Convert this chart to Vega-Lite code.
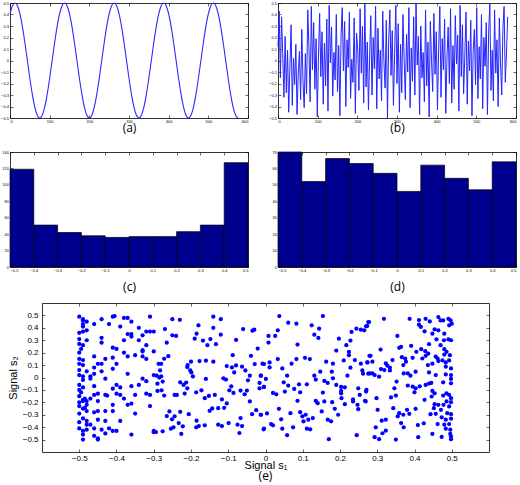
{
"$schema": "https://vega.github.io/schema/vega-lite/v6.json",
"padding": {"left": 0, "top": 0, "right": 0, "bottom": 0},
"background": "white",
"spacing": 9,
"config": {
  "view": {"stroke": null},
  "axis": {"grid": false, "domainColor": "black", "domainWidth": 0.8, "tickColor": "black", "tickWidth": 0.6, "tickSize": -3, "labelPadding": 4.5, "labelFontSize": 4, "labelColor": "black", "labelFont": "Liberation Sans", "titleFont": "Open Sans", "titleFontWeight": "normal", "titleFontSize": 12, "titleColor": "black", "titleLineHeight": 7}
},
"datasets": {
  "sine": [
{"x":0,"y":0.4045},{"x":6.25,"y":0.4755},{"x":12.5,"y":0.5},{"x":18.75,"y":0.4755},{"x":25,"y":0.4045},{"x":31.25,"y":0.2939},{"x":37.5,"y":0.1545},{"x":43.75,"y":0},{"x":50,"y":-0.1545},{"x":56.25,"y":-0.2939},{"x":62.5,"y":-0.4045},{"x":68.75,"y":-0.4755},{"x":75,"y":-0.5},{"x":81.25,"y":-0.4755},{"x":87.5,"y":-0.4045},{"x":93.75,"y":-0.2939},{"x":100,"y":-0.1545},{"x":106.25,"y":0},{"x":112.5,"y":0.1545},{"x":118.75,"y":0.2939},
{"x":125,"y":0.4045},{"x":131.25,"y":0.4755},{"x":137.5,"y":0.5},{"x":143.75,"y":0.4755},{"x":150,"y":0.4045},{"x":156.25,"y":0.2939},{"x":162.5,"y":0.1545},{"x":168.75,"y":0},{"x":175,"y":-0.1545},{"x":181.25,"y":-0.2939},{"x":187.5,"y":-0.4045},{"x":193.75,"y":-0.4755},{"x":200,"y":-0.5},{"x":206.25,"y":-0.4755},{"x":212.5,"y":-0.4045},{"x":218.75,"y":-0.2939},{"x":225,"y":-0.1545},{"x":231.25,"y":0},{"x":237.5,"y":0.1545},{"x":243.75,"y":0.2939},
{"x":250,"y":0.4045},{"x":256.25,"y":0.4755},{"x":262.5,"y":0.5},{"x":268.75,"y":0.4755},{"x":275,"y":0.4045},{"x":281.25,"y":0.2939},{"x":287.5,"y":0.1545},{"x":293.75,"y":0},{"x":300,"y":-0.1545},{"x":306.25,"y":-0.2939},{"x":312.5,"y":-0.4045},{"x":318.75,"y":-0.4755},{"x":325,"y":-0.5},{"x":331.25,"y":-0.4755},{"x":337.5,"y":-0.4045},{"x":343.75,"y":-0.2939},{"x":350,"y":-0.1545},{"x":356.25,"y":0},{"x":362.5,"y":0.1545},{"x":368.75,"y":0.2939},
{"x":375,"y":0.4045},{"x":381.25,"y":0.4755},{"x":387.5,"y":0.5},{"x":393.75,"y":0.4755},{"x":400,"y":0.4045},{"x":406.25,"y":0.2939},{"x":412.5,"y":0.1545},{"x":418.75,"y":0},{"x":425,"y":-0.1545},{"x":431.25,"y":-0.2939},{"x":437.5,"y":-0.4045},{"x":443.75,"y":-0.4755},{"x":450,"y":-0.5},{"x":456.25,"y":-0.4755},{"x":462.5,"y":-0.4045},{"x":468.75,"y":-0.2939},{"x":475,"y":-0.1545},{"x":481.25,"y":0},{"x":487.5,"y":0.1545},{"x":493.75,"y":0.2939},
{"x":500,"y":0.4045},{"x":506.25,"y":0.4755},{"x":512.5,"y":0.5},{"x":518.75,"y":0.4755},{"x":525,"y":0.4045},{"x":531.25,"y":0.2939},{"x":537.5,"y":0.1545},{"x":543.75,"y":0},{"x":550,"y":-0.1545},{"x":556.25,"y":-0.2939},{"x":562.5,"y":-0.4045},{"x":568.75,"y":-0.4755},{"x":575,"y":-0.5}
  ],
  "noise": [
{"x":0,"y":0.12},{"x":3,"y":0.43},{"x":6,"y":-0.15},{"x":9,"y":0.38},{"x":12,"y":0.05},{"x":15,"y":-0.32},{"x":18,"y":0.21},{"x":21,"y":-0.28},{"x":24,"y":0.09},{"x":27,"y":-0.45},
{"x":30,"y":-0.05},{"x":33,"y":0.31},{"x":36,"y":-0.39},{"x":39,"y":0.02},{"x":42,"y":-0.21},{"x":45,"y":0.14},{"x":48,"y":-0.47},{"x":51,"y":-0.12},{"x":54,"y":0.08},{"x":57,"y":-0.34},
{"x":60,"y":0.27},{"x":63,"y":-0.18},{"x":66,"y":-0.41},{"x":69,"y":0.06},{"x":72,"y":-0.29},{"x":75,"y":0.44},{"x":78,"y":0.11},{"x":81,"y":-0.36},{"x":84,"y":0.47},{"x":87,"y":-0.08},
{"x":90,"y":0.33},{"x":93,"y":-0.25},{"x":96,"y":0.19},{"x":99,"y":-0.49},{"x":102,"y":0.03},{"x":105,"y":0.41},{"x":108,"y":-0.14},{"x":111,"y":0.25},{"x":114,"y":-0.38},{"x":117,"y":0.15},
{"x":120,"y":-0.22},{"x":123,"y":0.36},{"x":126,"y":-0.44},{"x":129,"y":0.48},{"x":132,"y":-0.02},{"x":135,"y":0.29},{"x":138,"y":-0.31},{"x":141,"y":0.07},{"x":144,"y":-0.17},{"x":147,"y":0.4},
{"x":150,"y":-0.27},{"x":153,"y":0.13},{"x":156,"y":-0.48},{"x":159,"y":0.22},{"x":162,"y":0.46},{"x":165,"y":-0.09},{"x":168,"y":0.34},{"x":171,"y":-0.4},{"x":174,"y":0.18},{"x":177,"y":-0.06},
{"x":180,"y":0.42},{"x":183,"y":-0.33},{"x":186,"y":0.01},{"x":189,"y":-0.19},{"x":192,"y":0.37},{"x":195,"y":-0.46},{"x":198,"y":0.24},{"x":201,"y":0.1},{"x":204,"y":-0.26},{"x":207,"y":0.45},
{"x":210,"y":-0.11},{"x":213,"y":0.3},{"x":216,"y":-0.37},{"x":219,"y":0.49},{"x":222,"y":-0.23},{"x":225,"y":0.16},{"x":228,"y":-0.43},{"x":231,"y":0.04},{"x":234,"y":0.39},{"x":237,"y":-0.3},
{"x":240,"y":0.2},{"x":243,"y":-0.07},{"x":246,"y":0.47},{"x":249,"y":-0.42},{"x":252,"y":0.28},{"x":255,"y":-0.16},{"x":258,"y":0.09},{"x":261,"y":-0.35},{"x":264,"y":0.43},{"x":267,"y":-0.01},
{"x":270,"y":-0.24},{"x":273,"y":0.35},{"x":276,"y":-0.5},{"x":279,"y":0.17},{"x":282,"y":0.44},{"x":285,"y":-0.13},{"x":288,"y":0.26},{"x":291,"y":-0.39},{"x":294,"y":0.06},{"x":297,"y":0.48},
{"x":300,"y":-0.2},{"x":303,"y":0.32},{"x":306,"y":-0.45},{"x":309,"y":0.14},{"x":312,"y":-0.28},{"x":315,"y":0.4},{"x":318,"y":0.02},{"x":321,"y":-0.34},{"x":324,"y":0.23},{"x":327,"y":-0.1},
{"x":330,"y":0.46},{"x":333,"y":-0.41},{"x":336,"y":0.11},{"x":339,"y":-0.18},{"x":342,"y":0.38},{"x":345,"y":-0.3},{"x":348,"y":0.5},{"x":351,"y":-0.04},{"x":354,"y":0.21},{"x":357,"y":-0.47},
{"x":360,"y":0.3},{"x":363,"y":-0.15},{"x":366,"y":0.07},{"x":369,"y":-0.36},{"x":372,"y":0.44},{"x":375,"y":-0.22},{"x":378,"y":0.16},{"x":381,"y":-0.49},{"x":384,"y":0.34},{"x":387,"y":0.0},
{"x":390,"y":-0.27},{"x":393,"y":0.41},{"x":396,"y":-0.12},{"x":399,"y":0.25},{"x":402,"y":-0.43},{"x":405,"y":0.1},{"x":408,"y":0.47},{"x":411,"y":-0.32},{"x":414,"y":0.19},{"x":417,"y":-0.08},
{"x":420,"y":0.36},{"x":423,"y":-0.46},{"x":426,"y":0.03},{"x":429,"y":0.29},{"x":432,"y":-0.2},{"x":435,"y":0.45},{"x":438,"y":-0.37},{"x":441,"y":0.13},{"x":444,"y":-0.25},{"x":447,"y":0.39},
{"x":450,"y":-0.03},{"x":453,"y":0.22},{"x":456,"y":-0.44},{"x":459,"y":0.48},{"x":462,"y":-0.14},{"x":465,"y":0.31},{"x":468,"y":-0.29},{"x":471,"y":0.05},{"x":474,"y":0.42},{"x":477,"y":-0.38},
{"x":480,"y":0.17},{"x":483,"y":-0.09},{"x":486,"y":0.35},{"x":489,"y":-0.48},{"x":492,"y":0.08},{"x":495,"y":0.27},{"x":498,"y":-0.21},{"x":501,"y":0.46},{"x":504,"y":-0.33},{"x":507,"y":0.12},
{"x":510,"y":-0.16},{"x":513,"y":0.4},{"x":516,"y":-0.42},{"x":519,"y":0.2},{"x":522,"y":-0.05},{"x":525,"y":0.33},{"x":528,"y":-0.47},{"x":531,"y":0.24},{"x":534,"y":0.49},{"x":537,"y":-0.26},
{"x":540,"y":0.09},{"x":543,"y":-0.35},{"x":546,"y":0.44},{"x":549,"y":-0.11},{"x":552,"y":0.18},{"x":555,"y":-0.4},{"x":558,"y":0.37},{"x":561,"y":-0.02},{"x":564,"y":-0.3},{"x":567,"y":0.28},
{"x":570,"y":0.47},{"x":573,"y":-0.19},{"x":576,"y":0.06},{"x":579,"y":0.38}
  ],
  "hc": [
{"b0":-0.5,"b1":-0.4,"n":119},{"b0":-0.4,"b1":-0.3,"n":51},{"b0":-0.3,"b1":-0.2,"n":42},{"b0":-0.2,"b1":-0.1,"n":38},{"b0":-0.1,"b1":0,"n":36},{"b0":0,"b1":0.1,"n":37},{"b0":0.1,"b1":0.2,"n":37},{"b0":0.2,"b1":0.3,"n":43},{"b0":0.3,"b1":0.4,"n":51},{"b0":0.4,"b1":0.5,"n":127}
  ],
  "hd": [
{"b0":-0.5,"b1":-0.4,"n":70},{"b0":-0.4,"b1":-0.3,"n":52},{"b0":-0.3,"b1":-0.2,"n":66},{"b0":-0.2,"b1":-0.1,"n":63},{"b0":-0.1,"b1":0,"n":57},{"b0":0,"b1":0.1,"n":46},{"b0":0.1,"b1":0.2,"n":62},{"b0":0.2,"b1":0.3,"n":54},{"b0":0.3,"b1":0.4,"n":47},{"b0":0.4,"b1":0.5,"n":64}
  ],
  "pts": [
{"x":-0.5,"y":0.49},{"x":-0.49,"y":0.47},{"x":-0.49,"y":0.46},{"x":-0.48,"y":0.45},{"x":-0.49,"y":0.43},{"x":-0.49,"y":0.41},{"x":-0.48,"y":0.38},{"x":-0.49,"y":0.37},{"x":-0.44,"y":0.47},{"x":-0.41,"y":0.49},{"x":-0.405,"y":0.495},{"x":-0.38,"y":0.48},{"x":-0.37,"y":0.48},{"x":-0.36,"y":0.45},{"x":-0.31,"y":0.49},{"x":-0.46,"y":0.43},{"x":-0.42,"y":0.43},{"x":-0.39,"y":0.41},{"x":-0.34,"y":0.4},{"x":-0.32,"y":0.37},{"x":-0.31,"y":0.37},{"x":-0.3,"y":0.37},{"x":-0.37,"y":0.35},{"x":-0.36,"y":0.35},{"x":-0.36,"y":0.33},{"x":-0.44,"y":0.32},{"x":-0.33,"y":0.34},{"x":-0.5,"y":0.31},{"x":-0.48,"y":0.3},{"x":-0.5,"y":0.27},{"x":-0.49,"y":0.26},{"x":-0.38,"y":0.3},{"x":-0.34,"y":0.3},{"x":-0.44,"y":0.28},{"x":-0.32,"y":0.26},{"x":-0.41,"y":0.24},{"x":-0.4,"y":0.23},{"x":-0.33,"y":0.22},{"x":-0.33,"y":0.21},{"x":-0.38,"y":0.2},{"x":-0.3,"y":0.21},{"x":-0.5,"y":0.15},{"x":-0.49,"y":0.14},{"x":-0.5,"y":0.11},{"x":-0.49,"y":0.1},{"x":-0.46,"y":0.17},{"x":-0.43,"y":0.15},{"x":-0.41,"y":0.16},{"x":-0.37,"y":0.17},{"x":-0.35,"y":0.18},{"x":-0.33,"y":0.17},{"x":-0.32,"y":0.15},{"x":-0.28,"y":0.11},{"x":-0.45,"y":0.11},{"x":-0.44,"y":0.11},{"x":-0.46,"y":0.08},{"x":-0.41,"y":0.07},{"x":-0.4,"y":0.11},{"x":-0.48,"y":0.05},{"x":-0.46,"y":0.03},{"x":-0.44,"y":0.05},{"x":-0.5,"y":0.02},{"x":-0.49,"y":0.01},{"x":-0.49,"y":-0.02},{"x":-0.47,"y":0.01},{"x":-0.47,"y":-0.01},{"x":-0.43,"y":-0.01},{"x":-0.37,"y":0.03},{"x":-0.33,"y":-0.01},{"x":-0.3,"y":0.02},{"x":-0.28,"y":0.01},{"x":-0.29,"y":-0.05},{"x":-0.32,"y":-0.03},{"x":-0.5,"y":-0.06},{"x":-0.49,"y":-0.08},{"x":-0.46,"y":-0.07},{"x":-0.4,"y":-0.06},{"x":-0.41,"y":-0.09},{"x":-0.39,"y":-0.08},{"x":-0.36,"y":-0.07},{"x":-0.34,"y":-0.06},{"x":-0.45,"y":-0.13},{"x":-0.43,"y":-0.14},{"x":-0.4,"y":-0.13},{"x":-0.39,"y":-0.14},{"x":-0.35,"y":-0.14},{"x":-0.32,"y":-0.13},{"x":-0.31,"y":-0.14},{"x":-0.5,"y":-0.15},{"x":-0.49,"y":-0.18},{"x":-0.49,"y":-0.19},{"x":-0.485,"y":-0.17},{"x":-0.48,"y":-0.19},{"x":-0.48,"y":-0.22},{"x":-0.47,"y":-0.17},{"x":-0.46,"y":-0.14},{"x":-0.45,"y":-0.19},{"x":-0.425,"y":-0.145},{"x":-0.41,"y":-0.22},{"x":-0.38,"y":-0.17},{"x":-0.37,"y":-0.22},{"x":-0.36,"y":-0.21},{"x":-0.31,"y":-0.23},{"x":-0.5,"y":-0.23},{"x":-0.49,"y":-0.25},{"x":-0.5,"y":-0.29},{"x":-0.485,"y":-0.245},{"x":-0.48,"y":-0.27},{"x":-0.46,"y":-0.28},{"x":-0.45,"y":-0.27},{"x":-0.43,"y":-0.27},{"x":-0.41,"y":-0.27},{"x":-0.35,"y":-0.29},{"x":-0.49,"y":-0.33},{"x":-0.48,"y":-0.35},{"x":-0.48,"y":-0.38},{"x":-0.47,"y":-0.38},{"x":-0.45,"y":-0.34},{"x":-0.43,"y":-0.35},{"x":-0.39,"y":-0.35},{"x":-0.5,"y":-0.41},{"x":-0.48,"y":-0.42},{"x":-0.49,"y":-0.43},{"x":-0.46,"y":-0.41},{"x":-0.44,"y":-0.42},{"x":-0.42,"y":-0.41},{"x":-0.41,"y":-0.43},{"x":-0.43,"y":-0.45},{"x":-0.4,"y":-0.43},{"x":-0.36,"y":-0.46},{"x":-0.3,"y":-0.44},{"x":-0.3,"y":-0.43},{"x":-0.49,"y":-0.46},{"x":-0.49,"y":-0.5},{"x":-0.46,"y":-0.47},{"x":-0.45,"y":-0.49},{"x":-0.45,"y":-0.5},{"x":-0.5,"y":0.36},{"x":-0.5,"y":0.2},{"x":-0.5,"y":-0.1},{"x":-0.5,"y":-0.2},{"x":-0.5,"y":-0.36},{"x":-0.5,"y":0.06},{"x":-0.495,"y":0.23},{"x":-0.495,"y":-0.12},
{"x":-0.25,"y":0.47},{"x":-0.23,"y":0.465},{"x":-0.14,"y":0.49},{"x":-0.12,"y":0.47},{"x":-0.18,"y":0.42},{"x":-0.27,"y":0.39},{"x":-0.25,"y":0.34},{"x":-0.24,"y":0.335},{"x":-0.14,"y":0.4},{"x":-0.185,"y":0.353},{"x":-0.06,"y":0.39},{"x":-0.035,"y":0.377},{"x":-0.03,"y":0.385},{"x":-0.12,"y":0.345},{"x":-0.19,"y":0.313},{"x":-0.168,"y":0.297},{"x":-0.148,"y":0.31},{"x":-0.265,"y":0.28},{"x":-0.156,"y":0.26},{"x":-0.133,"y":0.268},{"x":-0.079,"y":0.303},{"x":-0.021,"y":0.233},{"x":-0.088,"y":0.18},{"x":-0.039,"y":0.175},{"x":-0.261,"y":0.172},{"x":-0.272,"y":0.151},{"x":-0.287,"y":0.11},{"x":-0.2,"y":0.127},{"x":-0.209,"y":0.1},{"x":-0.21,"y":0.084},{"x":-0.177,"y":0.132},{"x":-0.16,"y":0.135},{"x":-0.14,"y":0.127},{"x":-0.104,"y":0.092},{"x":-0.09,"y":0.081},{"x":-0.079,"y":0.097},{"x":-0.063,"y":0.087},{"x":-0.029,"y":0.108},{"x":-0.004,"y":0.108},{"x":-0.283,"y":0.057},{"x":-0.202,"y":0.057},{"x":-0.199,"y":0.041},{"x":-0.195,"y":0.009},{"x":-0.084,"y":0.041},{"x":-0.054,"y":0.057},{"x":-0.292,"y":0.015},{"x":-0.285,"y":-0.001},{"x":-0.16,"y":-0.012},{"x":-0.113,"y":-0.007},{"x":-0.106,"y":-0.017},{"x":-0.042,"y":0.015},{"x":-0.013,"y":0.015},{"x":-0.276,"y":-0.033},{"x":-0.229,"y":-0.039},{"x":-0.22,"y":-0.06},{"x":-0.213,"y":-0.041},{"x":-0.047,"y":-0.023},{"x":-0.016,"y":-0.044},{"x":-0.004,"y":-0.076},{"x":-0.092,"y":-0.071},{"x":-0.21,"y":-0.087},{"x":-0.172,"y":-0.103},{"x":-0.29,"y":-0.108},{"x":-0.279,"y":-0.103},{"x":-0.186,"y":-0.119},{"x":-0.097,"y":-0.103},{"x":-0.086,"y":-0.124},{"x":-0.067,"y":-0.105},{"x":-0.05,"y":-0.105},{"x":-0.056,"y":-0.135},{"x":-0.016,"y":-0.087},{"x":-0.272,"y":-0.145},{"x":-0.244,"y":-0.14},{"x":-0.238,"y":-0.14},{"x":-0.217,"y":-0.129},{"x":-0.152,"y":-0.148},{"x":-0.136,"y":-0.14},{"x":-0.163,"y":-0.167},{"x":-0.117,"y":-0.177},{"x":-0.104,"y":-0.209},{"x":-0.042,"y":-0.193},{"x":-0.143,"y":-0.249},{"x":-0.127,"y":-0.247},{"x":-0.111,"y":-0.244},{"x":-0.15,"y":-0.268},{"x":-0.025,"y":-0.263},{"x":-0.258,"y":-0.273},{"x":-0.229,"y":-0.276},{"x":-0.206,"y":-0.295},{"x":-0.265,"y":-0.311},{"x":-0.244,"y":-0.313},{"x":-0.251,"y":-0.337},{"x":-0.036,"y":-0.295},{"x":-0.013,"y":-0.3},{"x":-0.067,"y":-0.327},{"x":-0.233,"y":-0.367},{"x":-0.222,"y":-0.393},{"x":-0.185,"y":-0.348},{"x":-0.127,"y":-0.38},{"x":-0.117,"y":-0.391},{"x":-0.099,"y":-0.367},{"x":-0.075,"y":-0.38},{"x":-0.063,"y":-0.391},{"x":-0.163,"y":-0.385},{"x":-0.179,"y":-0.391},{"x":-0.186,"y":-0.401},{"x":-0.247,"y":-0.401},{"x":-0.254,"y":-0.412},{"x":-0.276,"y":-0.433},{"x":-0.294,"y":-0.439},{"x":-0.226,"y":-0.455},{"x":-0.07,"y":-0.447},{"x":-0.004,"y":-0.412},
{"x":0.037,"y":0.495},{"x":0.061,"y":0.441},{"x":0.083,"y":0.433},{"x":0.154,"y":0.495},{"x":0.124,"y":0.42},{"x":0.144,"y":0.393},{"x":0.033,"y":0.38},{"x":0.008,"y":0.335},{"x":0.026,"y":0.335},{"x":0.131,"y":0.345},{"x":0.142,"y":0.319},{"x":0.008,"y":0.281},{"x":0.086,"y":0.265},{"x":0.197,"y":0.313},{"x":0.228,"y":0.297},{"x":0.217,"y":0.26},{"x":0.231,"y":0.367},{"x":0.244,"y":0.393},{"x":0.256,"y":0.385},{"x":0.27,"y":0.412},{"x":0.276,"y":0.447},{"x":0.265,"y":0.38},{"x":0.19,"y":0.217},{"x":0.224,"y":0.207},{"x":0.224,"y":0.18},{"x":0.279,"y":0.175},{"x":-0.008,"y":0.111},{"x":0.011,"y":0.121},{"x":0.011,"y":0.081},{"x":0.033,"y":0.148},{"x":0.045,"y":0.073},{"x":0.07,"y":0.111},{"x":0.083,"y":0.148},{"x":0.106,"y":0.159},{"x":0.119,"y":0.148},{"x":0.163,"y":0.127},{"x":0.181,"y":0.111},{"x":0.21,"y":0.137},{"x":0.24,"y":0.14},{"x":0.256,"y":0.111},{"x":0.274,"y":0.121},{"x":0.228,"y":0.079},{"x":0.26,"y":0.057},{"x":0.262,"y":0.031},{"x":0.276,"y":0.031},{"x":0.147,"y":0.047},{"x":0.178,"y":0.047},{"x":0.131,"y":0.015},{"x":0.058,"y":0.015},{"x":-0.012,"y":0.015},{"x":0.001,"y":-0.012},{"x":0.135,"y":-0.017},{"x":0.158,"y":-0.028},{"x":0.167,"y":-0.044},{"x":0.181,"y":-0.007},{"x":0.22,"y":0.015},{"x":0.049,"y":-0.039},{"x":0.061,"y":-0.065},{"x":0.09,"y":-0.055},{"x":0.111,"y":-0.055},{"x":0.19,"y":-0.06},{"x":0.203,"y":-0.076},{"x":0.213,"y":-0.079},{"x":0.203,"y":-0.108},{"x":0.203,"y":-0.127},{"x":0.249,"y":-0.087},{"x":-0.005,"y":-0.076},{"x":0.077,"y":-0.092},{"x":0.093,"y":-0.119},{"x":0.154,"y":-0.121},{"x":0.02,"y":-0.124},{"x":0.029,"y":-0.135},{"x":0.052,"y":-0.113},{"x":0.253,"y":-0.14},{"x":0.27,"y":-0.113},{"x":0.204,"y":-0.167},{"x":0.135,"y":-0.188},{"x":0.14,"y":-0.207},{"x":0.158,"y":-0.193},{"x":0.179,"y":-0.199},{"x":0.213,"y":-0.215},{"x":0.235,"y":-0.177},{"x":0.235,"y":-0.193},{"x":0.247,"y":-0.22},{"x":0.086,"y":-0.188},{"x":0.267,"y":-0.188},{"x":0.249,"y":-0.255},{"x":0.036,"y":-0.252},{"x":0.186,"y":-0.252},{"x":0.151,"y":-0.273},{"x":0.195,"y":-0.3},{"x":-0.012,"y":-0.3},{"x":0.004,"y":-0.289},{"x":0.067,"y":-0.287},{"x":0.093,"y":-0.279},{"x":0.099,"y":-0.313},{"x":0.108,"y":-0.3},{"x":0.115,"y":-0.34},{"x":0.127,"y":-0.327},{"x":0.102,"y":-0.353},{"x":0.167,"y":-0.34},{"x":0.176,"y":-0.353},{"x":0.042,"y":-0.337},{"x":0.015,"y":-0.375},{"x":0.02,"y":-0.385},{"x":0.045,"y":-0.412},{"x":0.074,"y":-0.401},{"x":-0.005,"y":-0.417},{"x":0.111,"y":-0.412},{"x":0.12,"y":-0.417},{"x":0.058,"y":-0.465},{"x":0.17,"y":-0.497},{"x":0.245,"y":-0.465},
{"x":0.318,"y":0.473},{"x":0.387,"y":0.473},{"x":0.412,"y":0.463},{"x":0.43,"y":0.473},{"x":0.441,"y":0.452},{"x":0.464,"y":0.487},{"x":0.47,"y":0.46},{"x":0.477,"y":0.46},{"x":0.491,"y":0.473},{"x":0.497,"y":0.46},{"x":0.5,"y":0.433},{"x":0.493,"y":0.42},{"x":0.278,"y":0.447},{"x":0.273,"y":0.415},{"x":0.412,"y":0.425},{"x":0.417,"y":0.407},{"x":0.427,"y":0.372},{"x":0.454,"y":0.388},{"x":0.464,"y":0.38},{"x":0.448,"y":0.353},{"x":0.48,"y":0.353},{"x":0.354,"y":0.335},{"x":0.459,"y":0.308},{"x":0.479,"y":0.3},{"x":0.491,"y":0.308},{"x":0.498,"y":0.3},{"x":0.47,"y":0.26},{"x":0.439,"y":0.268},{"x":0.391,"y":0.255},{"x":0.364,"y":0.247},{"x":0.359,"y":0.239},{"x":0.309,"y":0.225},{"x":0.48,"y":0.228},{"x":0.486,"y":0.207},{"x":0.48,"y":0.185},{"x":0.495,"y":0.18},{"x":0.405,"y":0.207},{"x":0.418,"y":0.228},{"x":0.429,"y":0.212},{"x":0.437,"y":0.193},{"x":0.43,"y":0.175},{"x":0.421,"y":0.153},{"x":0.457,"y":0.169},{"x":0.462,"y":0.153},{"x":0.475,"y":0.137},{"x":0.493,"y":0.137},{"x":0.282,"y":0.175},{"x":0.366,"y":0.164},{"x":0.375,"y":0.153},{"x":0.395,"y":0.159},{"x":0.377,"y":0.127},{"x":0.323,"y":0.113},{"x":0.327,"y":0.095},{"x":0.334,"y":0.079},{"x":0.341,"y":0.14},{"x":0.273,"y":0.121},{"x":0.287,"y":0.127},{"x":0.37,"y":0.1},{"x":0.436,"y":0.1},{"x":0.448,"y":0.111},{"x":0.464,"y":0.132},{"x":0.484,"y":0.121},{"x":0.484,"y":0.087},{"x":0.498,"y":0.073},{"x":0.31,"y":0.068},{"x":0.319,"y":0.06},{"x":0.334,"y":0.057},{"x":0.403,"y":0.047},{"x":0.439,"y":0.041},{"x":0.28,"y":0.033},{"x":0.287,"y":0.033},{"x":0.293,"y":0.02},{"x":0.305,"y":0.007},{"x":0.371,"y":0.033},{"x":0.382,"y":0.033},{"x":0.389,"y":0.015},{"x":0.457,"y":0.02},{"x":0.484,"y":0.025},{"x":0.498,"y":0.02},{"x":0.498,"y":-0.012},{"x":0.498,"y":-0.047},{"x":0.477,"y":-0.039},{"x":0.352,"y":-0.033},{"x":0.382,"y":-0.065},{"x":0.395,"y":-0.073},{"x":0.414,"y":-0.071},{"x":0.43,"y":-0.06},{"x":0.439,"y":-0.049},{"x":0.445,"y":-0.044},{"x":0.403,"y":-0.087},{"x":0.346,"y":-0.087},{"x":0.271,"y":-0.1},{"x":0.4,"y":-0.119},{"x":0.448,"y":-0.108},{"x":0.454,"y":-0.127},{"x":0.446,"y":-0.153},{"x":0.477,"y":-0.145},{"x":0.486,"y":-0.127},{"x":0.493,"y":-0.14},{"x":0.498,"y":-0.167},{"x":0.337,"y":-0.161},{"x":0.35,"y":-0.145},{"x":0.298,"y":-0.167},{"x":0.427,"y":-0.18},{"x":0.269,"y":-0.193},{"x":0.486,"y":-0.193},{"x":0.454,"y":-0.215},{"x":0.464,"y":-0.22},{"x":0.478,"y":-0.22},{"x":0.493,"y":-0.233},{"x":0.498,"y":-0.199},{"x":0.343,"y":-0.247},{"x":0.301,"y":-0.26},{"x":0.38,"y":-0.26},{"x":0.403,"y":-0.252},{"x":0.452,"y":-0.247},{"x":0.471,"y":-0.26},{"x":0.359,"y":-0.287},{"x":0.37,"y":-0.3},{"x":0.386,"y":-0.292},{"x":0.443,"y":-0.295},{"x":0.457,"y":-0.292},{"x":0.488,"y":-0.287},{"x":0.498,"y":-0.295},{"x":0.473,"y":-0.321},{"x":0.355,"y":-0.313},{"x":0.484,"y":-0.34},{"x":0.498,"y":-0.332},{"x":0.312,"y":-0.348},{"x":0.323,"y":-0.34},{"x":0.364,"y":-0.367},{"x":0.462,"y":-0.375},{"x":0.48,"y":-0.38},{"x":0.493,"y":-0.375},{"x":0.296,"y":-0.401},{"x":0.371,"y":-0.401},{"x":0.409,"y":-0.383},{"x":0.425,"y":-0.369},{"x":0.484,"y":-0.412},{"x":0.496,"y":-0.42},{"x":0.323,"y":-0.428},{"x":0.314,"y":-0.449},{"x":0.448,"y":-0.455},{"x":0.496,"y":-0.455},{"x":0.498,"y":-0.476},{"x":0.293,"y":-0.481},{"x":0.305,"y":-0.497},{"x":0.35,"y":-0.5},{"x":0.41,"y":-0.481},{"x":0.473,"y":-0.479},{"x":0.498,"y":-0.497}
  ]
},
"vconcat": [
  {
    "bounds": "flush",
    "spacing": 30,
    "hconcat": [
      {
        "width": 238, "height": 115,
        "data": {"name": "sine"},
        "resolve": {"axis": {"x": "independent", "y": "independent"}},
        "layer": [
          {"mark": {"type": "line", "color": "#2a2aff", "strokeWidth": 1.1, "interpolate": "monotone"},
           "encoding": {
             "x": {"field": "x", "type": "quantitative", "scale": {"domain": [0, 600], "nice": false, "zero": false},
                   "axis": {"orient": "bottom", "values": [0,100,200,300,400,500,600], "title": ["(a)", " "], "titlePadding": -1}},
             "y": {"field": "y", "type": "quantitative", "scale": {"domain": [-0.5, 0.5], "nice": false, "zero": false},
                   "axis": {"orient": "left", "values": [-0.5,-0.4,-0.3,-0.2,-0.1,0,0.1,0.2,0.3,0.4,0.5], "format": ".1~f", "title": null}}
           }},
          {"mark": {"type": "line", "strokeOpacity": 0},
           "encoding": {
             "x": {"field": "x", "type": "quantitative", "axis": {"orient": "top", "values": [0,100,200,300,400,500,600], "labels": false, "title": null}},
             "y": {"field": "y", "type": "quantitative", "axis": {"orient": "right", "values": [-0.5,-0.4,-0.3,-0.2,-0.1,0,0.1,0.2,0.3,0.4,0.5], "labels": false, "title": null}}
           }}
        ]
      },
      {
        "width": 238, "height": 115,
        "data": {"name": "noise"},
        "resolve": {"axis": {"x": "independent", "y": "independent"}},
        "layer": [
          {"mark": {"type": "line", "color": "#2424ff", "strokeWidth": 1},
           "encoding": {
             "x": {"field": "x", "type": "quantitative", "scale": {"domain": [0, 600], "nice": false, "zero": false},
                   "axis": {"orient": "bottom", "values": [0,100,200,300,400,500,600], "title": ["(b)", " "], "titlePadding": -1}},
             "y": {"field": "y", "type": "quantitative", "scale": {"domain": [-0.5, 0.5], "nice": false, "zero": false},
                   "axis": {"orient": "left", "values": [-0.5,-0.4,-0.3,-0.2,-0.1,0,0.1,0.2,0.3,0.4,0.5], "format": ".1~f", "title": null}}
           }},
          {"mark": {"type": "line", "strokeOpacity": 0},
           "encoding": {
             "x": {"field": "x", "type": "quantitative", "axis": {"orient": "top", "values": [0,100,200,300,400,500,600], "labels": false, "title": null}},
             "y": {"field": "y", "type": "quantitative", "axis": {"orient": "right", "values": [-0.5,-0.4,-0.3,-0.2,-0.1,0,0.1,0.2,0.3,0.4,0.5], "labels": false, "title": null}}
           }}
        ]
      }
    ]
  },
  {
    "bounds": "flush",
    "spacing": 30,
    "hconcat": [
      {
        "width": 238, "height": 115,
        "data": {"name": "hc"},
        "resolve": {"axis": {"x": "independent", "y": "independent"}},
        "layer": [
          {"mark": {"type": "bar", "color": "#00008f", "stroke": "black", "strokeWidth": 0.7},
           "encoding": {
             "x": {"field": "b0", "type": "quantitative", "scale": {"domain": [-0.5, 0.5], "nice": false, "zero": false},
                   "axis": {"orient": "bottom", "values": [-0.5,-0.4,-0.3,-0.2,-0.1,0,0.1,0.2,0.3,0.4,0.5], "format": ".1~f", "title": "(c)", "titlePadding": 9}},
             "x2": {"field": "b1"},
             "y": {"field": "n", "type": "quantitative", "scale": {"domain": [0, 140], "nice": false},
                   "axis": {"orient": "left", "values": [0,20,40,60,80,100,120,140], "title": null}},
             "y2": {"datum": 0}
           }},
          {"mark": {"type": "bar", "fillOpacity": 0, "strokeOpacity": 0},
           "encoding": {
             "x": {"field": "b0", "type": "quantitative", "axis": {"orient": "top", "values": [-0.5,-0.4,-0.3,-0.2,-0.1,0,0.1,0.2,0.3,0.4,0.5], "labels": false, "title": null}},
             "x2": {"field": "b1"},
             "y": {"field": "n", "type": "quantitative", "axis": {"orient": "right", "values": [0,20,40,60,80,100,120,140], "labels": false, "title": null}},
             "y2": {"datum": 0}
           }}
        ]
      },
      {
        "width": 238, "height": 115,
        "data": {"name": "hd"},
        "resolve": {"axis": {"x": "independent", "y": "independent"}},
        "layer": [
          {"mark": {"type": "bar", "color": "#00008f", "stroke": "black", "strokeWidth": 0.7},
           "encoding": {
             "x": {"field": "b0", "type": "quantitative", "scale": {"domain": [-0.5, 0.5], "nice": false, "zero": false},
                   "axis": {"orient": "bottom", "values": [-0.5,-0.4,-0.3,-0.2,-0.1,0,0.1,0.2,0.3,0.4,0.5], "format": ".1~f", "title": "(d)", "titlePadding": 9}},
             "x2": {"field": "b1"},
             "y": {"field": "n", "type": "quantitative", "scale": {"domain": [0, 70], "nice": false},
                   "axis": {"orient": "left", "values": [0,10,20,30,40,50,60,70], "title": null}},
             "y2": {"datum": 0}
           }},
          {"mark": {"type": "bar", "fillOpacity": 0, "strokeOpacity": 0},
           "encoding": {
             "x": {"field": "b0", "type": "quantitative", "axis": {"orient": "top", "values": [-0.5,-0.4,-0.3,-0.2,-0.1,0,0.1,0.2,0.3,0.4,0.5], "labels": false, "title": null}},
             "x2": {"field": "b1"},
             "y": {"field": "n", "type": "quantitative", "axis": {"orient": "right", "values": [0,10,20,30,40,50,60,70], "labels": false, "title": null}},
             "y2": {"datum": 0}
           }}
        ]
      }
    ]
  },
  {
    "bounds": "flush",
    "spacing": 31,
    "hconcat": [
      {
        "width": 1, "height": 149,
        "data": {"values": [{"v": 0}]},
        "mark": {"type": "point", "opacity": 0},
        "encoding": {}
      },
      {
        "width": 447, "height": 149,
        "data": {"name": "pts"},
        "title": {"text": "(e)", "orient": "bottom", "font": "Open Sans", "fontSize": 12, "fontWeight": "normal", "color": "black", "offset": 1},
        "resolve": {"axis": {"x": "independent", "y": "independent"}},
        "layer": [
          {"mark": {"type": "circle", "color": "#0000ff", "opacity": 1, "size": 18},
           "encoding": {
             "x": {"field": "x", "type": "quantitative", "scale": {"domain": [-0.6, 0.6], "nice": false, "zero": false},
                   "axis": {"orient": "bottom", "values": [-0.5,-0.4,-0.3,-0.2,-0.1,0,0.1,0.2,0.3,0.4,0.5], "format": ".1~f", "labelFontSize": 8, "labelPadding": 5, "title": "Signal s₁", "titleFont": "Liberation Sans", "titleFontSize": 11, "titlePadding": -3}},
             "y": {"field": "y", "type": "quantitative", "scale": {"domain": [-0.6, 0.6], "nice": false, "zero": false},
                   "axis": {"orient": "left", "values": [-0.5,-0.4,-0.3,-0.2,-0.1,0,0.1,0.2,0.3,0.4,0.5], "format": ".1~f", "labelFontSize": 8, "labelPadding": 7, "title": "Signal s₂", "titleFont": "Liberation Sans", "titleFontSize": 11, "titlePadding": 4}}
           }},
          {"mark": {"type": "circle", "opacity": 0},
           "encoding": {
             "x": {"field": "x", "type": "quantitative", "axis": {"orient": "top", "values": [-0.5,-0.4,-0.3,-0.2,-0.1,0,0.1,0.2,0.3,0.4,0.5], "labels": false, "title": null}},
             "y": {"field": "y", "type": "quantitative", "axis": {"orient": "right", "values": [-0.5,-0.4,-0.3,-0.2,-0.1,0,0.1,0.2,0.3,0.4,0.5], "labels": false, "title": null}}
           }}
        ]
      }
    ]
  }
]
}
